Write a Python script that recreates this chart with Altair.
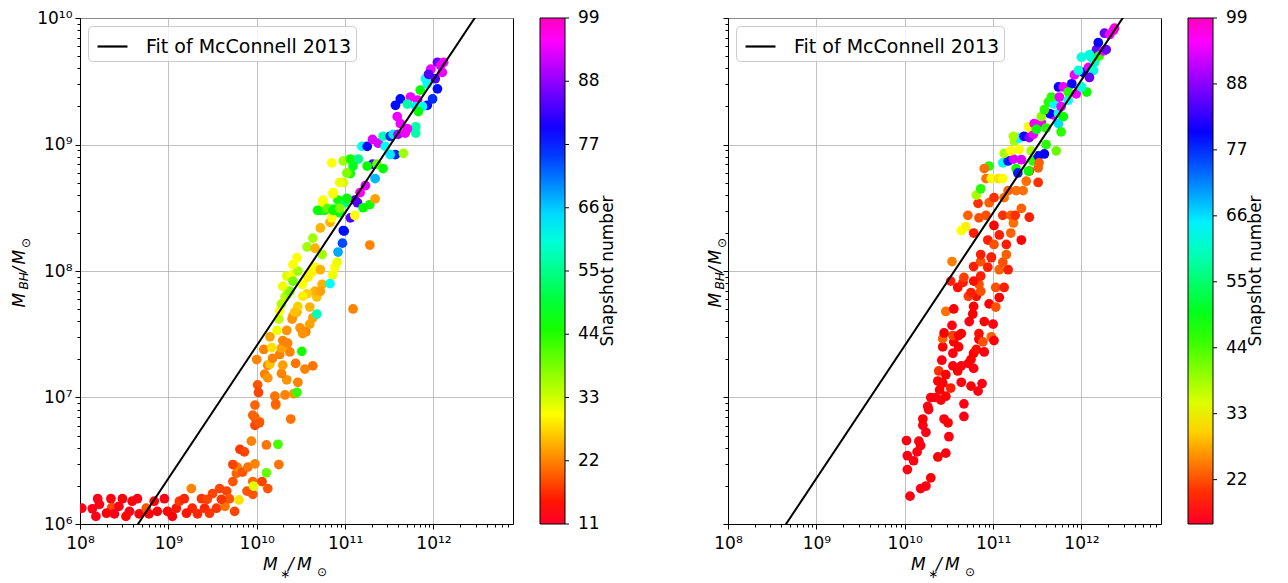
import altair as alt
import pandas as pd

# ---------------- data: log10(M*/Msun), log10(M_BH/Msun), snapshot number ----------------
# left panel, low-mass plateau
left_low_logmstar = [
    8.02, 8.14, 8.18, 8.20, 8.35, 8.36, 8.39, 8.48, 8.56, 8.59,
    8.65, 8.67, 8.75, 8.78, 8.875, 8.955, 8.99, 9.09, 9.125, 9.18,
    9.26, 9.27, 9.375, 9.41, 9.44, 9.50, 9.545, 9.58, 9.64, 9.66,
    9.69, 9.73, 9.77, 9.78, 9.80, 9.81, 9.84, 9.86, 9.89, 9.90,
    9.94, 9.955, 9.955, 9.965, 9.98, 9.98, 9.98, 9.98, 10.03, 10.06,
    10.11, 10.11, 10.125, 10.215, 10.24, 10.25, 10.385,
    8.22, 8.30, 8.44, 8.52, 8.84, 9.045, 9.205, 9.33, 9.465, 9.60, 9.73, 9.75]
left_low_logmbh = [
    6.125, 6.12, 6.06, 6.20, 6.20, 6.13, 6.08, 6.20, 6.10, 6.18,
    6.20, 6.08, 6.125, 6.08, 6.10, 6.20, 6.10, 6.125, 6.18, 6.20,
    6.28, 6.125, 6.20, 6.125, 6.195, 6.24, 6.125, 6.28, 6.14, 6.26,
    6.20, 6.335, 6.40, 6.45, 6.19, 6.59, 6.41, 6.57, 6.26, 6.45,
    6.655, 6.235, 6.335, 6.30, 6.475, 6.84, 6.78, 6.94, 6.81, 6.335,
    6.625, 6.405, 6.28, 6.94, 6.63, 6.47, 6.83,
    6.155, 6.085, 6.14, 6.06, 6.18, 6.06, 6.085, 6.08, 6.085, 6.195, 6.47, 6.10]
left_low_snap = [
    12, 12, 12, 12, 13, 18, 12, 13, 12, 13,
    12, 13, 19, 13, 13, 12, 14, 15, 17, 16,
    22, 16, 17, 16, 18, 18, 17, 18, 21, 18,
    19, 19, 20, 22, 28, 17, 19, 18, 19, 21,
    22, 19, 20, 32, 22, 19, 18, 20, 22, 18,
    21, 40, 19, 22, 42, 21, 21,
    12, 13, 12, 14, 14, 13, 15, 16, 17, 17, 18, 18]

# left panel, steep rise
left_mid_logmstar = [
    10.03, 9.955, 10.01, 10.02, 10.09, 10.125, 10.205, 10.215, 10.32, 10.42,
    10.455, 10.465, 10.34, 10.28, 10.545, 10.635, 10.44, 10.295, 10.125, 10.00,
    10.08, 10.15, 10.18, 10.26, 10.28, 10.375, 10.51, 10.295, 10.34, 10.35,
    10.17, 10.15, 10.23, 10.41, 10.40, 10.455, 10.49, 10.555, 10.52, 10.60,
    10.635, 10.68, 10.60, 10.68, 10.66, 10.57, 10.52, 10.465, 10.43, 10.26,
    10.25, 10.28, 10.32, 10.35, 10.375, 10.295, 10.34, 10.40, 10.41, 10.465,
    10.52, 10.58, 10.625, 10.66, 10.72, 10.74, 10.83, 10.86, 10.885, 10.72,
    10.57, 10.455, 10.41, 10.66, 10.74, 10.635, 10.72, 10.83, 10.92, 10.97,
    10.99, 11.06, 10.91, 10.77, 10.72, 10.865, 10.94, 10.85, 10.75, 10.92,
    11.00, 10.865, 11.11, 11.09, 11.28]
left_mid_logmbh = [
    6.80, 6.86, 7.10, 7.04, 7.185, 7.155, 7.01, 6.95, 7.02, 7.03,
    7.04, 7.12, 7.14, 7.19, 7.225, 7.25, 7.27, 7.255, 7.255, 7.30,
    7.38, 7.265, 7.31, 7.34, 7.39, 7.36, 7.365, 7.45, 7.53, 7.43,
    7.395, 7.48, 7.53, 7.645, 7.62, 7.675, 7.55, 7.52, 7.505, 7.58,
    7.63, 7.66, 7.715, 7.795, 7.84, 7.82, 7.80, 7.72, 7.675, 7.685,
    7.62, 7.74, 7.795, 7.82, 7.84, 7.88, 7.96, 7.97, 7.92, 8.00,
    7.895, 7.95, 7.99, 8.03, 8.01, 7.895, 7.90, 7.97, 8.03, 7.84,
    8.19, 8.105, 8.05, 8.18, 8.13, 8.26, 8.34, 8.385, 8.15, 8.22,
    8.315, 8.42, 8.07, 8.48, 8.48, 8.49, 8.46, 8.42, 8.54, 8.56,
    8.54, 8.61, 8.56, 7.70, 8.205]
left_mid_snap = [
    19, 20, 19, 18, 22, 23, 21, 20, 22, 23,
    43, 22, 23, 22, 22, 21, 21, 24, 22, 22,
    22, 26, 22, 22, 24, 22, 45, 22, 23, 22,
    28, 24, 31, 24, 23, 25, 23, 22, 23, 24,
    24, 58, 25, 26, 25, 27, 29, 27, 26, 30,
    34, 35, 34, 36, 38, 31, 32, 30, 39, 36,
    30, 29, 29, 30, 25, 25, 62, 31, 30, 24,
    36, 30, 30, 25, 36, 36, 25, 25, 68, 74,
    76, 84, 31, 45, 44, 46, 48, 30, 30, 45,
    54, 31, 85, 22, 22]

# left panel, massive end
left_high_logmstar = [
    10.85, 10.98, 11.06, 11.15, 11.19, 11.25, 11.31, 11.375, 11.43, 11.51,
    11.545, 11.60, 11.68, 11.80, 11.80, 11.57, 11.66, 11.51, 11.455, 11.31,
    11.25, 11.36, 11.43, 11.34, 11.23, 11.17, 11.14, 11.06, 11.09, 11.02,
    10.98, 10.94, 11.02, 10.865, 10.75, 10.69, 10.80, 10.865, 10.94, 11.205,
    11.28, 11.34, 11.11, 10.98, 11.57, 11.625, 11.74, 11.82, 11.705, 11.80,
    11.93, 11.99, 11.875, 11.59, 11.625, 11.705, 11.83, 11.85, 11.93, 11.91,
    11.97, 11.945, 12.045, 12.02, 12.10, 12.045, 12.115, 12.08]
left_high_logmbh = [
    8.855, 8.87, 8.885, 8.885, 8.985, 8.985, 9.04, 9.01, 9.065, 9.065,
    9.08, 9.08, 9.09, 9.09, 9.14, 8.92, 8.93, 8.92, 8.985, 8.845,
    8.83, 8.845, 8.81, 8.73, 8.675, 8.62, 8.54, 8.77, 8.83, 8.775,
    8.70, 8.70, 8.575, 8.62, 8.56, 8.48, 8.495, 8.48, 8.495, 8.50,
    8.525, 8.57, 8.44, 8.32, 9.31, 9.36, 9.375, 9.35, 9.32, 9.30,
    9.31, 9.36, 9.30, 9.22, 9.165, 9.125, 9.26, 9.43, 9.48, 9.52,
    9.595, 9.555, 9.44, 9.52, 9.57, 9.65, 9.65, 9.625]
left_high_snap = [
    30, 36, 45, 55, 62, 78, 93, 93, 58, 76,
    64, 90, 94, 57, 57, 76, 36, 64, 62, 84,
    46, 40, 46, 67, 93, 96, 84, 45, 48, 38,
    33, 31, 46, 30, 30, 46, 40, 46, 38, 46,
    45, 24, 30, 78, 78, 78, 94, 94, 57, 64,
    78, 76, 62, 94, 94, 94, 46, 46, 62, 62,
    94, 84, 78, 84, 94, 85, 95, 94]

# right panel, lower branch
right_low_logmstar = [
    10.06, 10.18, 10.24, 10.295, 10.03, 10.10, 10.03, 10.14, 10.18, 10.16,
    10.02, 10.375, 10.465, 10.50, 10.24, 10.205, 10.205, 10.445, 10.49, 10.67,
    10.67, 10.27, 10.26, 10.295, 10.35, 10.41, 10.465, 10.395, 10.52, 10.375,
    10.43, 10.64, 10.75, 10.83, 10.875, 10.385, 10.465, 10.545, 10.60, 10.64,
    10.72, 10.78, 10.75, 10.78, 10.81, 10.90, 10.42, 10.43, 10.545, 10.61,
    10.555, 10.545, 10.43, 10.64, 10.445, 10.535, 10.61, 10.84, 10.84, 10.885,
    10.98, 11.01, 10.90, 11.00, 10.73, 10.77, 10.465, 10.555, 10.78, 10.955,
    11.03, 11.07, 10.81, 10.86, 10.72, 10.75, 10.84, 10.86, 10.78, 10.60,
    10.66, 10.67, 10.52, 10.535, 10.78, 10.86, 10.94, 11.03, 11.125, 11.07,
    11.17, 11.11, 10.98]
right_low_logmbh = [
    6.22, 6.28, 6.30, 6.365, 6.43, 6.50, 6.54, 6.57, 6.62, 6.655,
    6.66, 6.53, 6.56, 6.69, 6.725, 6.78, 6.83, 6.83, 6.80, 6.85,
    6.95, 6.905, 6.93, 7.00, 7.00, 6.98, 7.01, 7.06, 7.075, 7.13,
    7.115, 7.12, 7.09, 7.05, 7.11, 7.21, 7.18, 7.25, 7.21, 7.25,
    7.27, 7.23, 7.30, 7.35, 7.38, 7.36, 7.295, 7.40, 7.35, 7.40,
    7.44, 7.49, 7.465, 7.505, 7.51, 7.57, 7.49, 7.46, 7.505, 7.44,
    7.48, 7.45, 7.60, 7.58, 7.60, 7.66, 7.68, 7.70, 7.72, 7.74,
    7.715, 7.79, 7.80, 7.84, 7.80, 7.83, 7.895, 7.96, 7.92, 7.87,
    7.91, 7.95, 7.92, 8.075, 8.035, 8.075, 8.03, 7.87, 7.87, 8.01,
    8.01, 8.07, 8.105]
right_low_snap = [
    16, 16, 16, 17, 16, 16, 16, 16, 16, 16,
    16, 17, 16, 16, 16, 16, 17, 16, 17, 16,
    16, 16, 16, 16, 16, 16, 17, 17, 19, 17,
    17, 16, 17, 16, 16, 20, 17, 16, 17, 16,
    16, 16, 17, 17, 18, 16, 16, 17, 16, 17,
    17, 21, 23, 17, 17, 16, 17, 17, 18, 22,
    23, 17, 17, 16, 16, 17, 24, 17, 17, 17,
    22, 17, 18, 22, 21, 19, 22, 19, 18, 18,
    19, 21, 19, 25, 19, 22, 19, 22, 19, 23,
    19, 22, 19]

# right panel, upper branch
right_high_logmstar = [
    10.715, 10.64, 10.69, 10.78, 10.84, 10.83, 10.955, 11.01, 10.92, 11.01,
    10.94, 11.01, 11.07, 10.86, 10.98, 11.15, 11.20, 11.15, 11.32, 11.23,
    11.11, 11.20, 11.25, 11.41, 11.32, 11.26, 11.17, 11.125, 11.375, 11.51,
    11.34, 11.51, 11.41, 10.81, 10.86, 10.92, 10.98, 11.06, 11.11, 10.955,
    10.90, 11.11, 11.17, 11.23, 11.32, 11.26, 11.28, 11.40, 11.45, 11.51,
    11.58, 11.52, 11.125, 11.20, 11.295, 11.43, 11.60, 11.715, 11.24, 11.295,
    11.35, 11.41, 11.455, 11.23, 11.40, 11.465, 11.545, 11.49, 11.60, 11.74,
    11.77, 11.68, 11.64, 11.74, 11.795, 11.545, 11.58, 11.625, 11.69, 11.77,
    11.66, 11.75, 11.85, 11.74, 11.795, 11.89, 11.85, 11.94, 12.06, 12.00,
    11.92, 12.02, 12.08, 12.135, 11.965, 12.09, 12.15, 12.11, 12.17, 12.20,
    12.19, 12.25, 12.28, 12.00, 12.09, 12.26, 12.36, 12.32, 12.375]
right_high_logmbh = [
    8.44, 8.32, 8.35, 8.30, 8.42, 8.535, 8.54, 8.58, 8.44, 8.36,
    8.245, 8.21, 8.285, 8.13, 8.11, 8.13, 8.30, 8.21, 8.245, 8.38,
    8.44, 8.44, 8.44, 8.425, 8.495, 8.635, 8.635, 8.58, 8.71, 8.70,
    8.635, 8.815, 8.79, 8.60, 8.65, 8.73, 8.73, 8.73, 8.73, 8.83,
    8.81, 8.855, 8.87, 8.885, 8.88, 8.81, 8.775, 8.79, 8.87, 8.91,
    8.925, 8.855, 8.93, 8.95, 8.96, 8.95, 9.00, 8.95, 9.025, 9.05,
    9.065, 9.055, 9.08, 9.065, 9.14, 9.165, 9.175, 9.12, 9.13, 9.165,
    9.10, 9.235, 9.245, 9.245, 9.22, 9.22, 9.275, 9.335, 9.32, 9.30,
    9.375, 9.375, 9.35, 9.455, 9.455, 9.48, 9.415, 9.40, 9.415, 9.455,
    9.55, 9.57, 9.61, 9.585, 9.585, 9.53, 9.65, 9.69, 9.75, 9.70,
    9.805, 9.74, 9.75, 9.69, 9.71, 9.88, 9.90, 9.87, 9.92]
right_high_snap = [
    23, 33, 32, 19, 22, 20, 23, 20, 22, 17,
    19, 22, 19, 19, 19, 23, 23, 19, 17, 24,
    20, 23, 20, 19, 23, 24, 23, 24, 24, 20,
    24, 23, 20, 38, 46, 24, 33, 31, 33, 46,
    24, 63, 78, 93, 93, 47, 78, 48, 46, 80,
    80, 23, 38, 33, 33, 38, 46, 42, 38, 64,
    80, 88, 94, 38, 33, 94, 94, 48, 46, 66,
    46, 94, 80, 64, 48, 40, 46, 46, 64, 94,
    46, 94, 64, 80, 94, 80, 46, 94, 48, 62,
    94, 80, 94, 62, 62, 86, 60, 60, 86, 46,
    80, 94, 86, 62, 62, 86, 95, 95, 97]

# McConnell & Ma 2013 fit: log M_BH = alpha + beta * (log M* - 11)
FIT_ALPHA = 8.46
FIT_BETA = 1.05
FIT_PIVOT = 11.0
FIT_LABEL = "Fit of McConnell 2013"

X_LOG_RANGE = [8.0, 12.9]
Y_LOG_RANGE = [6.0, 10.0]
X_MAJOR_EXP = [8, 9, 10, 11, 12]
Y_MAJOR_EXP = [6, 7, 8, 9, 10]

LEFT_CBAR_RANGE = [11, 99]
LEFT_CBAR_TICKS = [11, 22, 33, 44, 55, 66, 77, 88, 99]
RIGHT_CBAR_RANGE = [14.6, 99]
RIGHT_CBAR_TICKS = [22, 33, 44, 55, 66, 77, 88, 99]
CBAR_TITLE = "Snapshot number"

# matplotlib gist_rainbow anchor points
GIST_T = [0.0, 0.03, 0.215, 0.4, 0.586, 0.77, 0.954, 1.0]
GIST_C = ["#ff0029", "#ff0000", "#ffff00", "#00ff00", "#00ffff", "#0000ff", "#ff00ff", "#ff00bf"]

FONT = "DejaVu Sans"
W, H = 433, 506
CBAR_X = W + 27
CBAR_W = 25


def make_df(parts):
    lm, lb, sn = [], [], []
    for a, b, c in parts:
        assert len(a) == len(b) == len(c), (len(a), len(b), len(c))
        lm += a
        lb += b
        sn += c
    return pd.DataFrame({"mstar": [10 ** v for v in lm],
                         "mbh": [10 ** v for v in lb],
                         "snap": sn})


left_df = make_df([(left_low_logmstar, left_low_logmbh, left_low_snap),
                   (left_mid_logmstar, left_mid_logmbh, left_mid_snap),
                   (left_high_logmstar, left_high_logmbh, left_high_snap)])
right_df = make_df([(right_low_logmstar, right_low_logmbh, right_low_snap),
                    (right_high_logmstar, right_high_logmbh, right_high_snap)])

fit_df = pd.DataFrame({
    "mstar": [10 ** v for v in X_LOG_RANGE],
    "mbh": [10 ** (FIT_ALPHA + FIT_BETA * (v - FIT_PIVOT)) for v in X_LOG_RANGE],
    "label": [FIT_LABEL, FIT_LABEL],
})

SUP = str.maketrans("0123456789", "⁰¹²³⁴⁵⁶⁷⁸⁹")


def label_expr(exps):
    e = "''"
    for k in reversed(exps):
        e = f"abs(log(datum.value)/LN10 - {k}) < 0.001 ? '10{str(k).translate(SUP)}' : ({e})"
    return e


def tick_values(exps, top_log):
    vals = []
    for d in exps:
        for k in range(1, 10):
            v = k * 10.0 ** d
            if v <= 10 ** top_log * 1.0001:
                vals.append(v)
    return vals


MAJOR_TEST = "abs(log(datum.value)/LN10 - round(log(datum.value)/LN10)) < 0.001"


def axis(exps, top_log, labels, pad):
    return alt.Axis(
        values=tick_values(exps, top_log), labelExpr=label_expr(exps), labels=labels,
        title=None, grid=True, gridColor="#b0b0b0", gridWidth=0.8,
        gridOpacity={"condition": {"test": MAJOR_TEST, "value": 1}, "value": 0},
        ticks=True, tickColor="black", tickWidth=1,
        tickSize={"condition": {"test": MAJOR_TEST, "value": 5}, "value": 3},
        domain=True, domainColor="black", domainWidth=1,
        labelFont=FONT, labelFontSize=17, labelColor="black",
        labelOverlap=False, labelFlush=False, labelPadding=pad)


def text_layer(s, x, y, size, italic=False, angle=0, align="left"):
    kw = dict(font=FONT, fontSize=size, align=align, baseline="alphabetic", color="black")
    if italic:
        kw["fontStyle"] = "italic"
    if angle:
        kw["angle"] = angle
    return alt.Chart(pd.DataFrame({"t": [s]})).mark_text(**kw).encode(
        x=alt.value(x), y=alt.value(y), text="t:N")


def panel(df, cbar_range, cbar_ticks, ylabels, ytx):
    lo, hi = cbar_range
    stops = [lo + t * (hi - lo) for t in GIST_T]
    xscale = alt.Scale(type="log", domain=[10 ** X_LOG_RANGE[0], 10 ** X_LOG_RANGE[1]], nice=False)
    yscale = alt.Scale(type="log", domain=[10 ** Y_LOG_RANGE[0], 10 ** Y_LOG_RANGE[1]], nice=False)
    xaxis = axis(X_MAJOR_EXP, X_LOG_RANGE[1], True, 6)
    yaxis = axis(Y_MAJOR_EXP, Y_LOG_RANGE[1], ylabels, 3)

    pts = alt.Chart(df).mark_circle(size=95, opacity=1, clip=True).encode(
        x=alt.X("mstar:Q", scale=xscale, axis=xaxis),
        y=alt.Y("mbh:Q", scale=yscale, axis=yaxis),
        color=alt.Color("snap:Q",
                        scale=alt.Scale(domain=stops, range=GIST_C, interpolate="rgb"),
                        legend=alt.Legend(
                            title=None, orient="none", legendX=CBAR_X, legendY=0,
                            direction="vertical",
                            gradientLength=H, gradientThickness=CBAR_W,
                            gradientStrokeColor="black", gradientStrokeWidth=1,
                            values=cbar_ticks, labelExpr="''", padding=0)),
    )
    fit = alt.Chart(fit_df).mark_line(strokeWidth=2, clip=True).encode(
        x=alt.X("mstar:Q", scale=xscale, axis=xaxis),
        y=alt.Y("mbh:Q", scale=yscale, axis=yaxis),
        stroke=alt.Stroke("label:N", scale=alt.Scale(domain=[FIT_LABEL], range=["black"]),
                          legend=alt.Legend(
                              title=None, orient="top-left", offset=8, symbolType="stroke",
                              symbolSize=900, symbolStrokeWidth=2.2, symbolOffset=4,
                              labelFont=FONT, labelFontSize=19, labelColor="black",
                              labelOffset=17, labelLimit=400,
                              fillColor="rgba(255,255,255,0.8)",
                              strokeColor="#cccccc", cornerRadius=4, padding=4)),
    )
    data_layers = alt.layer(pts, fit)

    # colour-bar tick marks and labels, placed by a linear scale over the snapshot range
    cb_df = pd.DataFrame({"v": cbar_ticks})
    cb_scale = alt.Scale(domain=[lo, hi], nice=False, zero=False)
    cb_ticks = alt.Chart(cb_df).mark_rule(color="black", strokeWidth=1).encode(
        x=alt.value(CBAR_X + CBAR_W), x2=alt.value(CBAR_X + CBAR_W + 4),
        y=alt.Y("v:Q", scale=cb_scale, axis=None))
    cb_labels = alt.Chart(cb_df).mark_text(
        font=FONT, fontSize=17, align="left", baseline="middle", color="black").encode(
        x=alt.value(CBAR_X + CBAR_W + 13),
        y=alt.Y("v:Q", scale=cb_scale, axis=None),
        text=alt.Text("v:Q", format="d"))

    c = H / 2
    texts = [
        # x title  M_* / M_sun
        text_layer("M", 183, H + 46, 17, italic=True),
        text_layer("∗", 200, H + 54, 12),
        text_layer("/", 208, H + 46, 17, italic=True),
        text_layer("M", 217, H + 46, 17, italic=True),
        text_layer("⊙", 237, H + 52, 12),
        # y title  M_BH / M_sun (rotated)
        text_layer("M", ytx, c + 36.5, 17, italic=True, angle=270),
        text_layer("BH", ytx + 3, c + 18.5, 12, italic=True, angle=270),
        text_layer("/", ytx, c + 1.5, 17, italic=True, angle=270),
        text_layer("M", ytx, c - 6.5, 17, italic=True, angle=270),
        text_layer("⊙", ytx + 5, c - 23, 12, angle=270),
        # colour-bar title
        text_layer(CBAR_TITLE, CBAR_X + 73, c, 17, angle=270, align="center"),
    ]
    return (alt.layer(data_layers, cb_ticks, cb_labels, *texts)
            .resolve_scale(y="independent")
            .properties(width=W, height=H))


left = panel(left_df, LEFT_CBAR_RANGE, LEFT_CBAR_TICKS, True, -55)
right = panel(right_df, RIGHT_CBAR_RANGE, RIGHT_CBAR_TICKS, False, -7)

chart = (
    alt.hconcat(left, right, spacing=89)
    .resolve_scale(color="independent", stroke="independent")
    .configure(padding={"left": 2, "top": 0, "right": 5, "bottom": 0}, background="white")
    .configure_view(stroke="black", strokeWidth=1)
)

chart.save("out.html", embed_options={"renderer": "svg", "actions": False})
